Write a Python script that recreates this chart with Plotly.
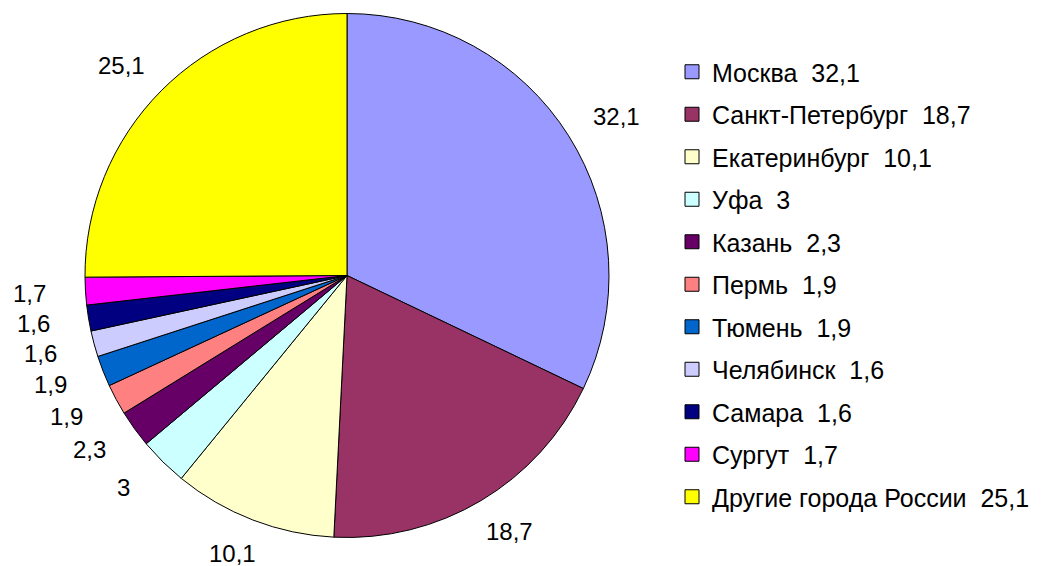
import numpy as np
import plotly.graph_objects as go

cities = ["Москва", "Санкт-Петербург", "Екатеринбург", "Уфа", "Казань", "Пермь",
          "Тюмень", "Челябинск", "Самара", "Сургут", "Другие города России"]
shares = [32.1, 18.7, 10.1, 3, 2.3, 1.9, 1.9, 1.6, 1.6, 1.7, 25.1]
colors = ["#9999FF", "#993366", "#FFFFCC", "#CCFFFF", "#660066", "#FF8080",
          "#0066CC", "#CCCCFF", "#000080", "#FF00FF", "#FFFF00"]

share_text = [str(v).replace(".", ",") for v in shares]
legend_labels = [f"{c}  {t}" for c, t in zip(cities, share_text)]

W, H = 1043, 566
FONT = "Liberation Sans, Arial, sans-serif"
LABEL_SIZE = 24
# pie geometry (pixels)
CX, CY, R = 347, 275.5, 262
# value labels sit on an ellipse around the pie
LABEL_RX, LABEL_RY = 318, 298

fig = go.Figure()
fig.add_trace(go.Pie(
    labels=cities,
    values=shares,
    textinfo="none",
    hoverinfo="label+value",
    marker=dict(colors=colors, line=dict(color="black", width=1)),
    sort=False,
    direction="clockwise",
    rotation=0,
    domain=dict(x=[(CX - R) / W, (CX + R) / W], y=[1 - (CY + R) / H, 1 - (CY - R) / H]),
    showlegend=False,
))

# legend entries
for i, (lab, col) in enumerate(zip(legend_labels, colors)):
    fig.add_trace(go.Scatter(
        x=[None], y=[None], mode="markers", name=lab,
        legendgroup=str(i),
        marker=dict(symbol="square", size=14, color=col, line=dict(color="black", width=1)),
        showlegend=True, hoverinfo="skip",
    ))

# value labels outside each slice, at the slice's mid-angle
vals = np.array(shares, dtype=float)
cum = np.cumsum(vals) - vals / 2
theta = cum / vals.sum() * 2 * np.pi
annotations = []
for t, txt in zip(theta, share_text):
    px = CX + LABEL_RX * np.sin(t)
    py = CY - LABEL_RY * np.cos(t)
    annotations.append(dict(
        x=px / W, y=1 - py / H, xref="paper", yref="paper",
        text=txt, showarrow=False, xanchor="center", yanchor="middle",
        font=dict(family=FONT, size=LABEL_SIZE, color="black"),
    ))

fig.update_layout(
    width=W, height=H,
    margin=dict(l=0, r=0, t=0, b=0),
    paper_bgcolor="white",
    plot_bgcolor="white",
    font=dict(family=FONT, size=24, color="black"),
    xaxis=dict(visible=False),
    yaxis=dict(visible=False),
    annotations=annotations,
    legend=dict(x=672 / W, y=1 - 49 / H, xanchor="left", yanchor="top",
                font=dict(family=FONT, size=25, color="black"),
                tracegroupgap=7,
                bgcolor="rgba(0,0,0,0)"),
)

fig.write_html("out.html", config={"displayModeBar": False},
               post_script="document.body.style.margin='0';")
